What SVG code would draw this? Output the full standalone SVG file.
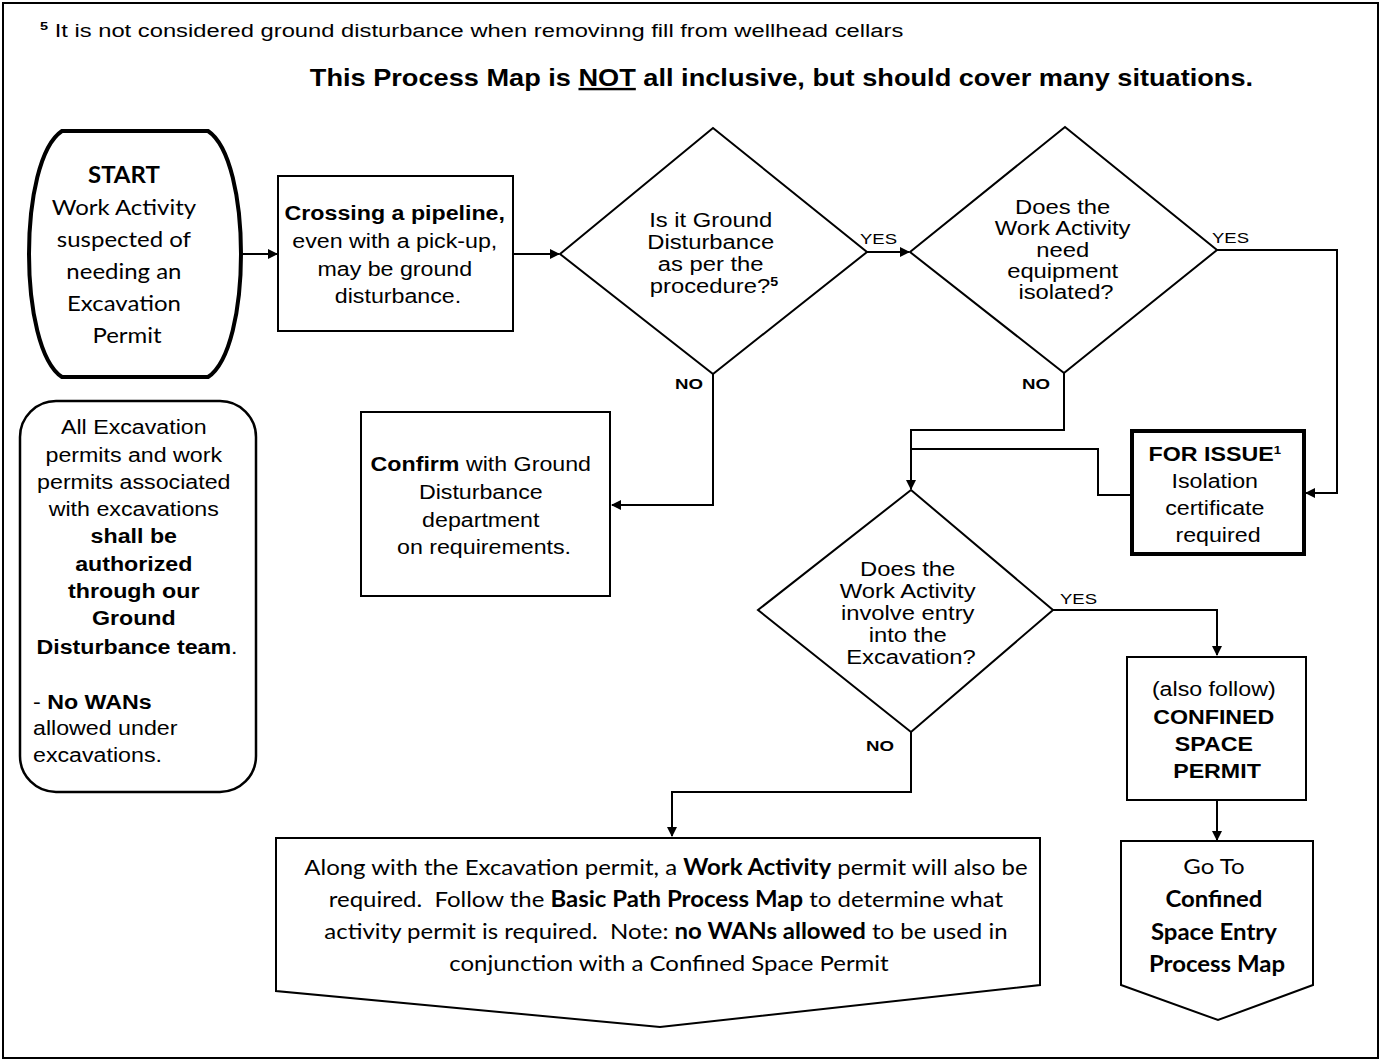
<svg xmlns="http://www.w3.org/2000/svg" width="1382" height="1061" viewBox="0 0 1382 1061">
<style>
.a{font-family:"Liberation Sans",Arial,sans-serif;fill:#000}
.c{font-family:Lato,"Liberation Sans",sans-serif;fill:#000}
.b{font-weight:bold}
.s{fill:#fff;stroke:#000;stroke-width:2}
.ln{fill:none;stroke:#000;stroke-width:2}
</style>
<defs>
<marker id="ah" markerWidth="10" markerHeight="10" refX="9" refY="5" orient="auto" markerUnits="userSpaceOnUse">
<path d="M0,0 L10,5 L0,10 Z" fill="#000"/>
</marker>
</defs>
<rect x="0" y="0" width="1382" height="1061" fill="#fff"/>
<rect x="3" y="3" width="1375" height="1055" fill="none" stroke="#000" stroke-width="2"/>
<text class="a" x="40" y="37" font-size="18" transform="matrix(1.32 0 0 1 -12.8 0)"><tspan font-size="11" dy="-7" class="b">5</tspan><tspan dy="7"> It is not considered ground disturbance when removinng fill from wellhead cellars</tspan></text>
<text class="a b" x="781.5" y="86" font-size="24" text-anchor="middle" transform="matrix(1.132 0 0 1 -103.2 0)">This Process Map is <tspan text-decoration="underline">NOT</tspan> all inclusive, but should cover many situations.</text>

<g id="connectors">
<line class="ln" x1="243" y1="254" x2="277" y2="254" marker-end="url(#ah)"/>
<line class="ln" x1="513" y1="254" x2="559" y2="254" marker-end="url(#ah)"/>
<line class="ln" x1="867" y1="252" x2="909" y2="252" marker-end="url(#ah)"/>
<polyline class="ln" points="1217,250 1337,250 1337,493 1306,493" marker-end="url(#ah)"/>
<polyline class="ln" points="713,374 713,505 612,505" marker-end="url(#ah)"/>
<polyline class="ln" points="1064,373 1064,430 911,430 911,489" marker-end="url(#ah)"/>
<polyline class="ln" points="1131,495 1098,495 1098,449 911,449"/>
<polyline class="ln" points="1053,610 1217,610 1217,655" marker-end="url(#ah)"/>
<line class="ln" x1="1217" y1="800" x2="1217" y2="840" marker-end="url(#ah)"/>
<polyline class="ln" points="911,732 911,792 672,792 672,836" marker-end="url(#ah)"/>
<text class="a" x="860" y="244" font-size="15" textLength="37" lengthAdjust="spacingAndGlyphs">YES</text>
<text class="a" x="1212" y="243" font-size="15" textLength="37" lengthAdjust="spacingAndGlyphs">YES</text>
<text class="a" x="1060" y="604" font-size="15" textLength="37" lengthAdjust="spacingAndGlyphs">YES</text>
<text class="a b" x="675" y="389" font-size="15" textLength="28" lengthAdjust="spacingAndGlyphs">NO</text>
<text class="a b" x="1022" y="389" font-size="15" textLength="28" lengthAdjust="spacingAndGlyphs">NO</text>
<text class="a b" x="866" y="751" font-size="15" textLength="28" lengthAdjust="spacingAndGlyphs">NO</text>
</g>

<g id="start">
<path d="M62,131 H208 C252,160 252,348 208,377 H62 C18,348 18,160 62,131 Z" fill="#fff" stroke="#000" stroke-width="4"/>
<text class="c" font-size="22" text-anchor="middle" transform="matrix(1.09 0 0 1 -11.43 0)">
<tspan x="127" y="183" class="b">START</tspan>
<tspan x="127" y="215">Work Activity</tspan>
<tspan x="127" y="247">suspected of</tspan>
<tspan x="127" y="279">needing an</tspan>
<tspan x="127" y="311">Excavation</tspan>
<tspan x="127" y="343">Permit</tspan>
</text>
</g>

<g id="note">
<rect x="20" y="401" width="236" height="391" rx="36" ry="36" fill="#fff" stroke="#000" stroke-width="2.5"/>
<text class="a" font-size="19.5" text-anchor="middle" transform="matrix(1.19 0 0 1 -26.03 0)">
<tspan x="137" y="434">All Excavation</tspan>
<tspan x="137" y="462">permits and work</tspan>
<tspan x="137" y="489">permits associated</tspan>
<tspan x="137" y="516">with excavations</tspan>
<tspan x="137" y="543" class="b">shall be</tspan>
<tspan x="137" y="571" class="b">authorized</tspan>
<tspan x="137" y="598" class="b">through our</tspan>
<tspan x="137" y="625" class="b">Ground</tspan>
<tspan x="137" y="654"><tspan class="b">Disturbance team</tspan>.</tspan>
</text>
<text class="a" font-size="19.5" transform="matrix(1.19 0 0 1 -6.27 0)">
<tspan x="33" y="709">- <tspan class="b">No WANs</tspan></tspan>
<tspan x="33" y="735">allowed under</tspan>
<tspan x="33" y="762">excavations.</tspan>
</text>
</g>

<g id="crossing">
<rect class="s" x="278" y="176" width="235" height="155"/>
<text class="a" font-size="19.5" text-anchor="middle" transform="matrix(1.19 0 0 1 -75.62 0)">
<tspan x="398" y="220" class="b">Crossing a pipeline,</tspan>
<tspan x="398" y="248">even with a pick-up,</tspan>
<tspan x="398" y="276">may be ground</tspan>
<tspan x="398" y="303">disturbance.</tspan>
</text>
</g>

<g id="q-ground">
<polygon class="s" points="560,254 713,128 867,252 713,374"/>
<text class="a" font-size="20" text-anchor="middle" transform="matrix(1.19 0 0 1 -135.66 0)">
<tspan x="714" y="227">Is it Ground</tspan>
<tspan x="714" y="249">Disturbance</tspan>
<tspan x="714" y="271">as per the</tspan>
<tspan x="714" y="293">procedure?<tspan class="b" font-size="12" dy="-7">5</tspan></tspan>
</text>
</g>

<g id="q-isolate">
<polygon class="s" points="910,252 1065,127 1217,250 1064,373"/>
<text class="a" font-size="20" text-anchor="middle" transform="matrix(1.19 0 0 1 -202.54 0)">
<tspan x="1066" y="214">Does the</tspan>
<tspan x="1066" y="235">Work Activity</tspan>
<tspan x="1066" y="257">need</tspan>
<tspan x="1066" y="278">equipment</tspan>
<tspan x="1066" y="299">isolated?</tspan>
</text>
</g>

<g id="confirm">
<rect class="s" x="361" y="412" width="249" height="184"/>
<text class="a" font-size="19.5" text-anchor="middle" transform="matrix(1.19 0 0 1 -91.96 0)">
<tspan x="484" y="471"><tspan class="b">Confirm</tspan> with Ground</tspan>
<tspan x="484" y="499">Disturbance</tspan>
<tspan x="484" y="527">department</tspan>
<tspan x="484" y="554">on requirements.</tspan>
</text>
</g>

<g id="for-issue">
<rect x="1132" y="431" width="172" height="123" fill="#fff" stroke="#000" stroke-width="4"/>
<text class="a" font-size="19.5" text-anchor="middle" transform="matrix(1.19 0 0 1 -231.42 0)">
<tspan x="1218" y="461" class="b">FOR ISSUE<tspan font-size="11" dy="-7">1</tspan></tspan>
<tspan x="1218" y="488">Isolation</tspan>
<tspan x="1218" y="515">certificate</tspan>
<tspan x="1218" y="542">required</tspan>
</text>
</g>

<g id="q-entry">
<polygon class="s" points="911,490 1053,610 911,732 758,610"/>
<text class="a" font-size="20" text-anchor="middle" transform="matrix(1.19 0 0 1 -173.09 0)">
<tspan x="911" y="576">Does the</tspan>
<tspan x="911" y="598">Work Activity</tspan>
<tspan x="911" y="620">involve entry</tspan>
<tspan x="911" y="642">into the</tspan>
<tspan x="911" y="664">Excavation?</tspan>
</text>
</g>

<g id="confined">
<rect class="s" x="1127" y="657" width="179" height="143"/>
<text class="a" font-size="19.5" text-anchor="middle" transform="matrix(1.19 0 0 1 -231.23 0)">
<tspan x="1217" y="696">(also follow)</tspan>
<tspan x="1217" y="724" class="b">CONFINED</tspan>
<tspan x="1217" y="751" class="b">SPACE</tspan>
<tspan x="1217" y="778" class="b">PERMIT</tspan>
</text>
</g>

<g id="goto">
<polygon class="s" points="1121,841 1313,841 1313,985 1218,1020 1121,985"/>
<text class="c" font-size="22" text-anchor="middle" transform="matrix(1.09 0 0 1 -109.53 0)">
<tspan x="1217" y="874">Go To</tspan>
<tspan x="1217" y="907" class="b">Confined</tspan>
<tspan x="1217" y="940" class="b">Space Entry</tspan>
<tspan x="1217" y="972" class="b">Process Map</tspan>
</text>
</g>

<g id="basic-path">
<polygon class="s" points="276,838 1040,838 1040,985 660,1027 276,991"/>
<text class="c" font-size="22" text-anchor="middle" transform="matrix(1.09 0 0 1 -60.21 0)">
<tspan x="669" y="875">Along with the Excavation permit, a <tspan class="b">Work Activity</tspan> permit will also be</tspan>
<tspan x="669" y="907">required.&#160; Follow the <tspan class="b">Basic Path Process Map</tspan> to determine what</tspan>
<tspan x="669" y="939">activity permit is required.&#160; Note: <tspan class="b">no WANs allowed</tspan> to be used in</tspan>
<tspan x="669" y="971">conjunction with a Confined Space Permit</tspan>
</text>
</g>
</svg>
